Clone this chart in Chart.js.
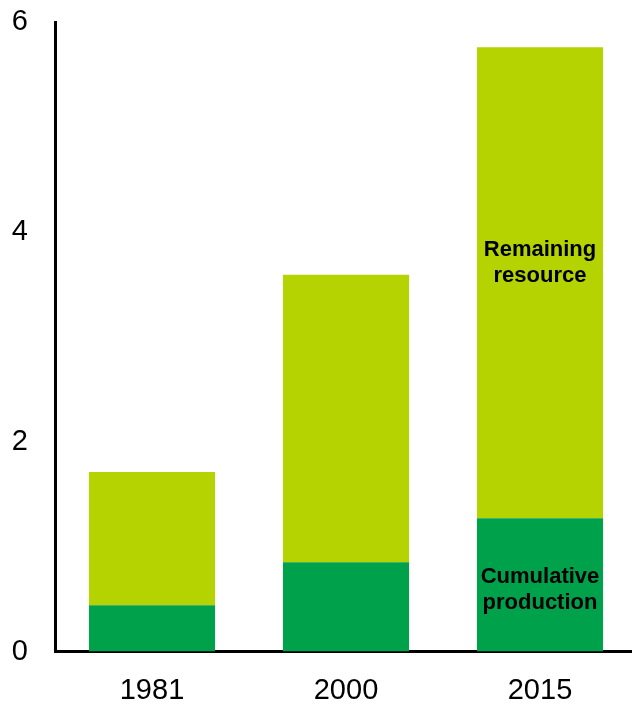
<!DOCTYPE html>
<html>
<head>
<meta charset="utf-8">
<script src="https://cdn.jsdelivr.net/npm/chart.js@4/dist/chart.umd.min.js"></script>
<style>
html,body{margin:0;padding:0;background:#fff;overflow:hidden;}
#wrap{width:637px;height:705px;}
</style>
</head>
<body>
<div id="wrap"><canvas id="c" width="637" height="705"></canvas></div>
<script>
const categories = ['1981', '2000', '2015'];
const cumulativeProduction = [0.44, 0.85, 1.27];
const remainingResource = [1.27, 2.74, 4.49];
const yTicks = [0, 2, 4, 6];
const seriesNames = ['Cumulative production', 'Remaining resource'];

const inBarLabels = {
  id: 'inBarLabels',
  afterDatasetsDraw(chart) {
    const ctx = chart.ctx;
    const y = chart.scales.y;
    const last = categories.length - 1;
    const bar = chart.getDatasetMeta(0).data[last];
    const items = [
      { lines: ['Remaining', 'resource'], v: 3.765 },
      { lines: ['Cumulative', 'production'], v: 0.655 }
    ];
    ctx.save();
    ctx.fillStyle = '#000';
    ctx.font = 'bold 22px "Liberation Sans", Arial, sans-serif';
    ctx.textAlign = 'center';
    ctx.textBaseline = 'alphabetic';
    items.forEach(it => {
      const base = y.getPixelForValue(it.v);
      it.lines.forEach((t, i) => ctx.fillText(t, bar.x, base + i * 26));
    });
    ctx.restore();
  }
};

new Chart(document.getElementById('c'), {
  type: 'bar',
  data: {
    labels: categories,
    datasets: [
      { label: seriesNames[0], data: cumulativeProduction, backgroundColor: '#00a14b', borderWidth: 0 },
      { label: seriesNames[1], data: remainingResource, backgroundColor: '#b5d300', borderWidth: 0 }
    ]
  },
  options: {
    responsive: false,
    animation: false,
    layout: { padding: { top: 22, right: 0, bottom: 0, left: 0 } },
    plugins: { legend: { display: false }, tooltip: { enabled: false } },
    datasets: { bar: { categoryPercentage: 1, barPercentage: 0.65 } },
    scales: {
      x: {
        stacked: true,
        grid: { display: false, drawTicks: false },
        border: { display: true, color: '#000', width: 3 },
        ticks: { color: '#000', font: { family: '"Liberation Sans", Arial, sans-serif', size: 29 }, padding: 22 },
        afterFit(s) { s.height = 705 - 651.5; s.paddingLeft = 0; s.paddingRight = 0; }
      },
      y: {
        stacked: true,
        min: 0, max: 6,
        afterBuildTicks(s) { s.ticks = yTicks.map(v => ({ value: v })); },
        grid: { display: false, drawTicks: false },
        border: { display: true, color: '#000', width: 3 },
        ticks: { color: '#000', font: { family: '"Liberation Sans", Arial, sans-serif', size: 29 }, padding: 27 },
        afterFit(s) { s.width = 55; s.paddingTop = 0; s.paddingBottom = 0; }
      }
    }
  },
  plugins: [inBarLabels]
});
</script>
</body>
</html>
